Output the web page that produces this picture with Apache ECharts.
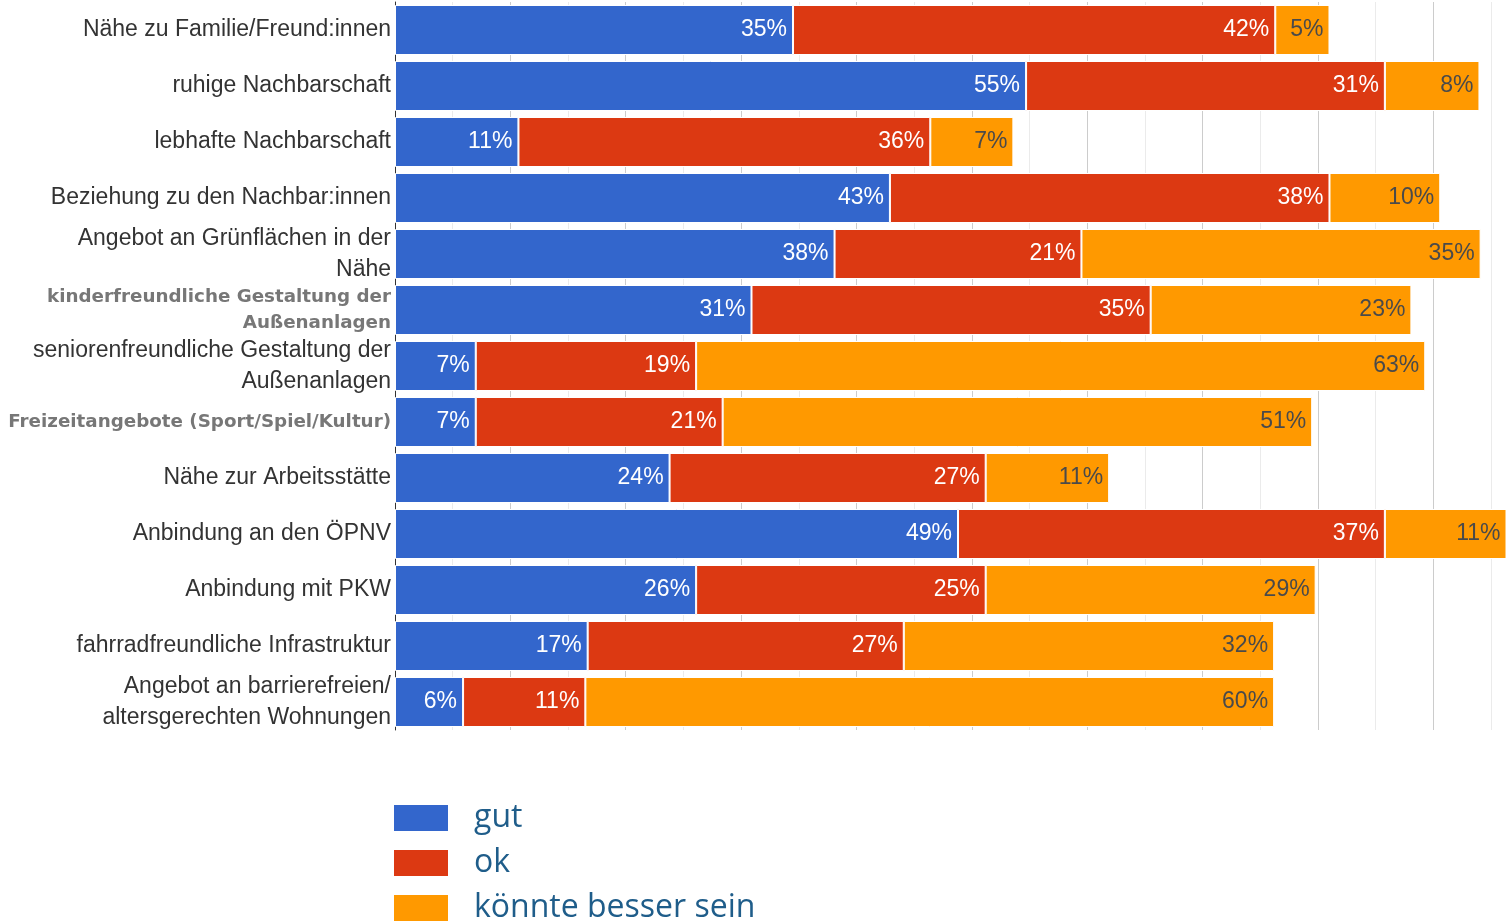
<!DOCTYPE html>
<html>
<head>
<meta charset="utf-8">
<style>html,body{margin:0;padding:0;background:#fff;}#c{width:1506px;height:923px;}</style>
<script src="https://cdn.jsdelivr.net/npm/echarts@6/dist/echarts.min.js"></script>
</head>
<body>
<div id="c"></div>
<script>
const categories = [
  'Nähe zu Familie/Freund:innen',
  'ruhige Nachbarschaft',
  'lebhafte Nachbarschaft',
  'Beziehung zu den Nachbar:innen',
  'Angebot an Grünflächen in der\nNähe',
  'kinderfreundliche Gestaltung der\nAußenanlagen',
  'seniorenfreundliche Gestaltung der\nAußenanlagen',
  'Freizeitangebote (Sport/Spiel/Kultur)',
  'Nähe zur Arbeitsstätte',
  'Anbindung an den ÖPNV',
  'Anbindung mit PKW',
  'fahrradfreundliche Infrastruktur',
  'Angebot an barrierefreien/\naltersgerechten Wohnungen'
];
const boldCategories = [5, 7];
const seriesNames = ['gut', 'ok', 'könnte besser sein'];
const gut    = [34.5, 54.7, 10.7, 42.9, 38.1, 30.9, 7.0, 7.0, 23.8, 48.8, 26.1, 16.7, 5.9];
const ok     = [41.8, 31.1, 35.7, 38.1, 21.4, 34.6, 19.1, 21.4, 27.4, 37.0, 25.1, 27.4, 10.6];
const besser = [4.7, 8.2, 7.2, 9.6, 34.6, 22.6, 63.2, 51.1, 10.7, 11.3, 28.6, 32.1, 59.7];
const colors = ['#3366cc', '#dc3912', '#ff9900'];
const labelColors = ['#ffffff', '#ffffff', '#4a4a4a'];

const chart = echarts.init(document.getElementById('c'));
const mk = (name, data, i) => ({
  name, type: 'bar', stack: 'a', data, barWidth: 50,
  itemStyle: { color: colors[i], borderColor: '#ffffff', borderWidth: 1 },
  label: {
    show: true, position: 'insideRight', distance: 6,
    color: labelColors[i], fontFamily: 'Liberation Sans', fontSize: 23,
    formatter: p => Math.round(p.value) + '%'
  }
});
const legendTops = [802, 847, 892];
chart.setOption({
  animation: false,
  grid: { left: 395, top: 2, right: 0, height: 728 },
  xAxis: {
    type: 'value', min: 0, max: 96.3, interval: 5,
    axisLine: { show: false }, axisTick: { show: false }, axisLabel: { show: false },
    splitLine: { show: true, lineStyle: { color: ['#cccccc', '#ebebeb'], width: 1 } }
  },
  yAxis: {
    type: 'category', inverse: true, data: categories,
    axisLine: { show: true, lineStyle: { color: '#333333', width: 1 } },
    axisTick: { show: false },
    axisLabel: {
      margin: 4, fontFamily: 'Liberation Sans', fontSize: 23, color: '#333333', lineHeight: 31, align: 'right',
      formatter: (v, idx) => {
        if (boldCategories.indexOf(idx) >= 0) {
          return v.split('\n').map(s => '{b|' + s + '}').join('\n');
        }
        return v;
      },
      rich: {
        b: { fontFamily: 'DejaVu Sans', fontWeight: 'bold', fontSize: 18.3, color: '#777777', lineHeight: 26 }
      }
    }
  },
  legend: seriesNames.map((n, i) => ({
    orient: 'vertical', left: 392, top: legendTops[i], icon: 'rect', padding: 0,
    itemWidth: 56, itemHeight: 28,
    textStyle: { fontFamily: 'Open Sans', fontSize: 32, lineHeight: 28, color: '#1f5d8a', padding: [0, 0, 0, 20] },
    data: [n]
  })),
  series: [mk(seriesNames[0], gut, 0), mk(seriesNames[1], ok, 1), mk(seriesNames[2], besser, 2)]
});
</script>
</body>
</html>
